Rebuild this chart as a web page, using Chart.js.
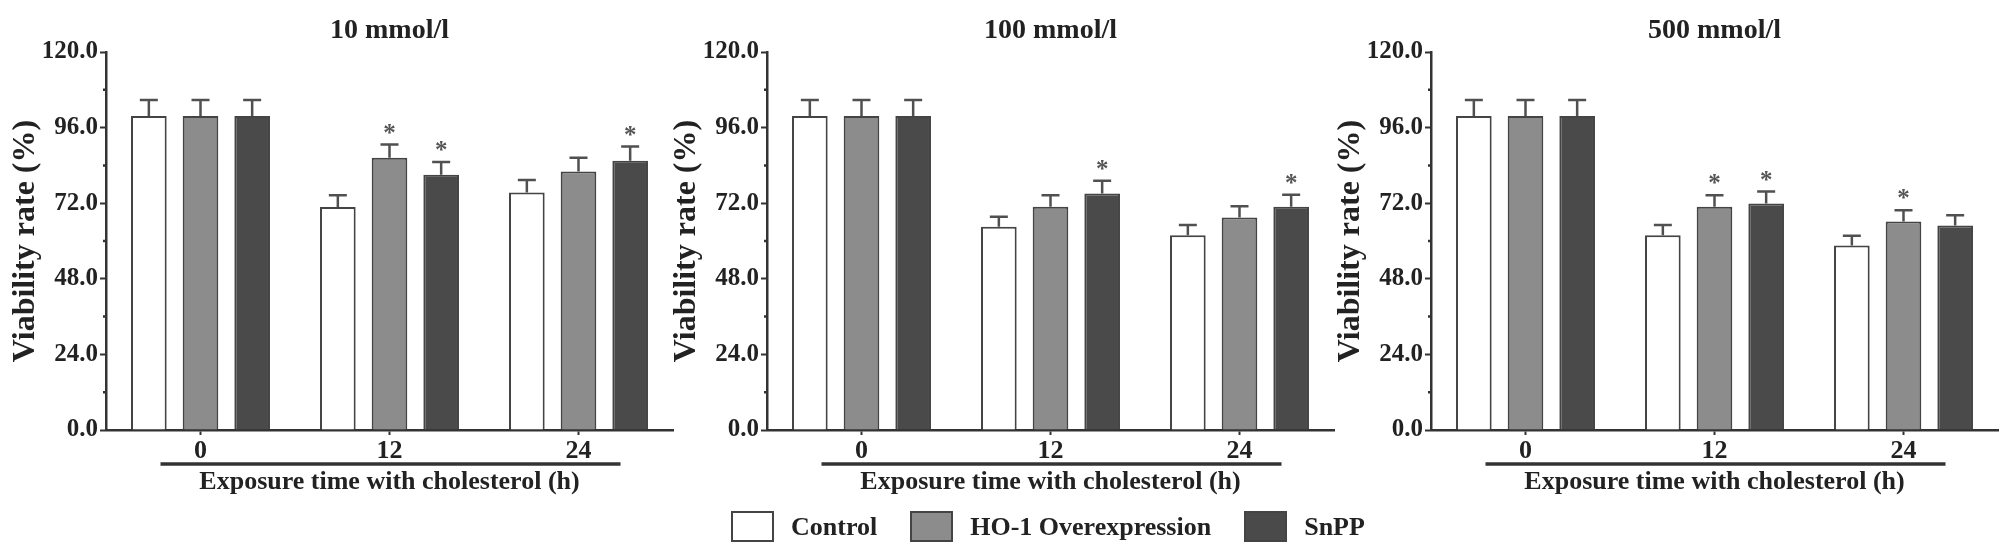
<!DOCTYPE html>
<html>
<head>
<meta charset="utf-8">
<script src="https://cdn.jsdelivr.net/npm/chart.js@4.4.1/dist/chart.umd.min.js"></script>
<style>
  html, body { margin: 0; padding: 0; background: #fff; }
  #page { position: relative; width: 2008px; height: 558px; overflow: hidden; }
  canvas { position: absolute; top: 0; }
  #c10  { left: 0; }
  #c100 { left: 661px; }
  #c500 { left: 1325px; }
  #legend {
    position: absolute; left: 731px; top: 511px;
    display: flex; align-items: center;
    font: bold 26px "Liberation Serif", "Times New Roman", serif; color: #222;
  }
  .item { display: flex; align-items: center; margin-right: 33px; }
  .box { width: 39px; height: 27px; border: 2px solid #444; margin-right: 17px; }
</style>
</head>
<body>
<div id="page">
  <canvas id="c10" width="675" height="558"></canvas>
  <canvas id="c100" width="675" height="558"></canvas>
  <canvas id="c500" width="675" height="558"></canvas>
  <div id="legend"></div>
</div>
<script>
// exposure time (h) categories and groups
const timeLabels = ['0', '12', '24'];
const groupNames = ['Control', 'HO-1 Overexpression', 'SnPP'];
const groupColors = ['#ffffff', '#8c8c8c', '#4a4a4a'];

// y axis
const yMin = 0;
const yMax = 120;
const yMinorStep = 12;
const yMajorStep = 24;

// 10 mmol/l
const ctrl10 = [99.7, 70.8, 75.4];
const ho10   = [99.7, 86.4, 82.1];
const snpp10 = [99.7, 81.0, 85.5];
const ctrl10Sd = [5.1, 3.7, 4.0];
const ho10Sd   = [5.1, 4.2, 4.3];
const snpp10Sd = [5.1, 4.1, 4.5];
const ctrl10Sig = [0, 0, 0];
const ho10Sig   = [0, 1, 0];
const snpp10Sig = [0, 1, 1];

// 100 mmol/l
const ctrl100 = [99.7, 64.5, 61.8];
const ho100   = [99.7, 70.9, 67.5];
const snpp100 = [99.7, 75.1, 70.9];
const ctrl100Sd = [5.1, 3.2, 3.3];
const ho100Sd   = [5.1, 3.6, 3.5];
const snpp100Sd = [5.1, 4.0, 3.8];
const ctrl100Sig = [0, 0, 0];
const ho100Sig   = [0, 0, 0];
const snpp100Sig = [0, 1, 1];

// 500 mmol/l
const ctrl500 = [99.7, 61.8, 58.6];
const ho500   = [99.7, 70.9, 66.2];
const snpp500 = [99.7, 71.9, 64.9];
const ctrl500Sd = [5.1, 3.3, 3.1];
const ho500Sd   = [5.1, 3.6, 3.6];
const snpp500Sd = [5.1, 3.8, 3.3];
const ctrl500Sig = [0, 0, 0];
const ho500Sig   = [0, 1, 1];
const snpp500Sig = [0, 1, 0];

const FONT = '"Liberation Serif", "Times New Roman", serif';
const INK = '#222';
const AXIS = '#333';

// upper error whiskers + significance stars
const errorBars = {
  id: 'errorBars',
  afterDatasetsDraw(chart) {
    const ctx = chart.ctx;
    const y = chart.scales.y;
    ctx.save();
    chart.data.datasets.forEach((ds, i) => {
      const meta = chart.getDatasetMeta(i);
      meta.data.forEach((bar, j) => {
        const top = y.getPixelForValue(ds.data[j] + ds.sd[j]);
        ctx.strokeStyle = '#505050';
        ctx.lineWidth = 2.5;
        ctx.beginPath();
        ctx.moveTo(bar.x, bar.y);
        ctx.lineTo(bar.x, top);
        ctx.moveTo(bar.x - 9, top);
        ctx.lineTo(bar.x + 9, top);
        ctx.stroke();
        if (ds.sig[j]) {
          ctx.fillStyle = '#555';
          ctx.font = 'bold 25px ' + FONT;
          ctx.textAlign = 'center';
          ctx.textBaseline = 'alphabetic';
          ctx.fillText('*', bar.x, top - 4);
        }
      });
    });
    ctx.restore();
  }
};

// line under the time labels, short minor ticks on the y axis
const axisExtras = {
  id: 'axisExtras',
  afterDraw(chart) {
    const x = chart.scales.x;
    const y = chart.scales.y;
    const ctx = chart.ctx;
    ctx.save();
    ctx.strokeStyle = AXIS;
    ctx.lineWidth = 3.5;
    ctx.beginPath();
    ctx.moveTo(x.getPixelForValue(0) - 40, x.top + 34);
    ctx.lineTo(x.getPixelForValue(timeLabels.length - 1) + 42, x.top + 34);
    ctx.stroke();
    ctx.lineWidth = 2.5;
    ctx.beginPath();
    y.ticks.forEach(t => {
      if (t.value % yMajorStep !== 0) {
        const py = y.getPixelForValue(t.value);
        ctx.moveTo(y.right - 3, py);
        ctx.lineTo(y.right, py);
      }
    });
    ctx.stroke();
    ctx.restore();
  }
};

function makeChart(id, title, series, sds, sigs) {
  const ctx = document.getElementById(id).getContext('2d');
  return new Chart(ctx, {
    type: 'bar',
    data: {
      labels: timeLabels,
      datasets: series.map((data, i) => ({
        label: groupNames[i],
        data: data,
        sd: sds[i],
        sig: sigs[i],
        backgroundColor: groupColors[i],
        borderColor: '#444',
        borderWidth: 2,
        categoryPercentage: 0.82,
        barPercentage: 0.69
      }))
    },
    options: {
      responsive: false,
      animation: false,
      layout: { padding: { left: 0, right: 2, top: 0, bottom: 63 } },
      plugins: {
        legend: { display: false },
        tooltip: { enabled: false },
        title: {
          display: true,
          text: title,
          fullSize: false,
          color: INK,
          font: { family: FONT, size: 28, weight: 'bold', lineHeight: 1 },
          padding: { top: 17, bottom: 7 }
        }
      },
      scales: {
        x: {
          afterFit: s => { s.height = 65; },
          grid: { offset: false, drawOnChartArea: false, drawTicks: true, tickLength: 5, color: AXIS, tickWidth: 2 },
          border: { color: AXIS, width: 2.5 },
          ticks: { color: INK, padding: 3, font: { family: FONT, size: 26, weight: 'bold', lineHeight: 1 } },
          title: {
            display: true,
            text: 'Exposure time with cholesterol (h)',
            color: INK,
            padding: { top: 0, bottom: 0 },
            font: { family: FONT, size: 26, weight: 'bold', lineHeight: 1 }
          }
        },
        y: {
          min: yMin,
          max: yMax,
          afterFit: s => { s.width = 106; },
          grid: {
            drawOnChartArea: false, drawTicks: true, tickLength: 6, tickWidth: 2,
            tickColor: c => (c.tick && c.tick.value % yMajorStep === 0 ? AXIS : 'rgba(0,0,0,0)')
          },
          border: { color: AXIS, width: 2.5 },
          ticks: {
            stepSize: yMinorStep,
            padding: 2,
            color: INK,
            font: { family: FONT, size: 25, weight: 'bold', lineHeight: 1 },
            callback: v => (v % yMajorStep === 0 ? v.toFixed(1) : '')
          },
          title: {
            display: true,
            text: 'Viability rate (%)',
            color: INK,
            padding: { top: 10, bottom: 0 },
            font: { family: FONT, size: 32, weight: 'bold', lineHeight: 1 }
          }
        }
      }
    },
    plugins: [errorBars, axisExtras]
  });
}

makeChart('c10', '10 mmol/l',
  [ctrl10, ho10, snpp10], [ctrl10Sd, ho10Sd, snpp10Sd], [ctrl10Sig, ho10Sig, snpp10Sig]);
makeChart('c100', '100 mmol/l',
  [ctrl100, ho100, snpp100], [ctrl100Sd, ho100Sd, snpp100Sd], [ctrl100Sig, ho100Sig, snpp100Sig]);
makeChart('c500', '500 mmol/l',
  [ctrl500, ho500, snpp500], [ctrl500Sd, ho500Sd, snpp500Sd], [ctrl500Sig, ho500Sig, snpp500Sig]);

// shared legend
const legend = document.getElementById('legend');
groupNames.forEach((name, i) => {
  const item = document.createElement('div');
  item.className = 'item';
  const box = document.createElement('div');
  box.className = 'box';
  box.style.background = groupColors[i];
  const label = document.createElement('span');
  label.textContent = name;
  item.appendChild(box);
  item.appendChild(label);
  legend.appendChild(item);
});
</script>
</body>
</html>
